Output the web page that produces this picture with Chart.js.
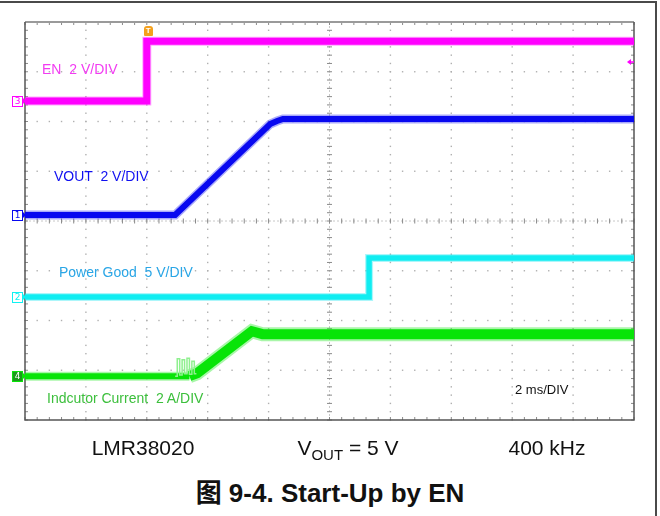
<!DOCTYPE html>
<html><head><meta charset="utf-8">
<script src="https://cdn.jsdelivr.net/npm/chart.js@4.4.1/dist/chart.umd.min.js"></script>
<style>
html,body{margin:0;padding:0;background:#fff;width:660px;height:516px;overflow:hidden;font-family:"Liberation Sans",Arial,sans-serif;}
#frame{position:absolute;left:-4px;top:1px;width:659px;height:560px;border-top:2px solid #4a4a4a;border-right:2px solid #4a4a4a;}
#wrap{position:absolute;left:0;top:0;width:660px;height:440px;}
.lbl{position:absolute;font-size:14px;line-height:14px;white-space:pre;}
.row{position:absolute;width:200px;text-align:center;font-size:21px;line-height:24px;color:#111;white-space:pre;}
.row sub{font-size:15px;vertical-align:-5px;line-height:0;}
#cap{position:absolute;left:0;width:660px;top:478px;text-align:center;font-weight:bold;font-size:26px;line-height:30px;color:#111;font-family:"Liberation Sans","Noto Sans CJK SC",sans-serif;}
.mk{position:absolute;width:9px;height:9px;border:1px solid;font-size:9px;line-height:9px;text-align:center;background:#fff;font-family:"DejaVu Sans",sans-serif;}
.mk:after{content:"";position:absolute;right:-4px;top:1px;border-left:3px solid;border-color:inherit;border-top:3px solid transparent;border-bottom:3px solid transparent;width:0;height:0;}
#trig{position:absolute;width:9px;height:10px;background:#f4a01c;border-radius:3px 3px 1px 1px;color:#fff;font-size:8px;line-height:10px;text-align:center;font-weight:bold;}
</style>
</head><body>
<div id="frame"></div>
<div id="wrap"><canvas id="c"></canvas></div>
<div class="lbl" style="left:42px;top:62px;color:#f23cf2;">EN  2 V/DIV</div>
<div class="lbl" style="left:54px;top:169px;color:#1010f0;">VOUT  2 V/DIV</div>
<div class="lbl" style="left:59px;top:265px;color:#2aa6e6;">Power Good  5 V/DIV</div>
<div class="lbl" style="left:47px;top:391px;color:#3cbf3c;">Indcutor Current  2 A/DIV</div>
<div class="lbl" style="left:515px;top:383px;color:#111;font-size:13px;">2 ms/DIV</div>
<div class="row" style="left:43px;top:436px;">LMR38020</div>
<div class="row" style="left:248px;top:436px;">V<sub>OUT</sub> = 5 V</div>
<div class="row" style="left:447px;top:436px;">400 kHz</div>
<div id="cap">图 9-4. Start-Up by EN</div>
<script>
// ---- data (time in ms, channel values in V or A) ----
const enTime   = [-10, -6, -6, 10];
const enVolts  = [0, 0, 2.41, 2.41];
const voutTime  = [-10, -5.07, -1.95, -1.72, -1.53, 10];
const voutVolts = [0, 0, 3.66, 3.78, 3.86, 3.86];
const pgTime   = [-10, 1.3, 1.3, 10];
const pgVolts  = [0, 0, 3.92, 3.92];
const ilTime   = [-10, -4.6, -4.35, -2.55, -2.2, 10];
const ilAmps   = [0, 0, 0.12, 1.81, 1.69, 1.69];
const burstTime = [-5.07, -5.0, -5.0, -4.92, -4.92, -4.84, -4.84, -4.76, -4.76, -4.68, -4.68, -4.6, -4.6, -4.52, -4.52, -4.44, -4.44, -4.37];
const burstAmps = [0, 0, 0.7, 0.7, 0.05, 0.05, 0.66, 0.66, 0.1, 0.1, 0.72, 0.72, 0.08, 0.08, 0.6, 0.6, 0.1, 0.1];
const triggerLevel = 1.57; // V on EN channel

// ---- scope settings ----
const X_MIN = -10, X_MAX = 10, X_DIV = 2;   // 2 ms/div, 10 div
const Y_MIN = 0, Y_MAX = 8;                 // 8 vertical divisions
const ch = {
  en:   {offset: 6.41, perDiv: 2, color: '#ff00ff', halo: 'rgba(255,0,255,0.35)'},
  vout: {offset: 4.12, perDiv: 2, color: '#0808f0', halo: 'rgba(8,8,240,0.35)'},
  pg:   {offset: 2.47, perDiv: 5, color: '#10f2f2', halo: 'rgba(16,230,240,0.35)'},
  il:   {offset: 0.88, perDiv: 2, color: '#08e408', halo: 'rgba(8,228,8,0.35)'}
};
const toPts = (t, v, c) => t.map((tt, i) => ({x: tt, y: c.offset + v[i] / c.perDiv}));

const gridPlugin = {
  id: 'scopeGrid',
  beforeDatasetsDraw(chart) {
    const {ctx, chartArea: a, scales: {x, y}} = chart;
    ctx.save();
    ctx.fillStyle = '#b0b0b0';
    const nx = (X_MAX - X_MIN) / X_DIV, ny = Y_MAX - Y_MIN;
    for (let i = 1; i < nx; i++) {
      const px = x.getPixelForValue(X_MIN + i * X_DIV);
      if (i === nx / 2) continue;
      for (let j = 0; j <= ny * 6; j++) {
        const py = y.getPixelForValue(Y_MIN + j / 6);
        ctx.fillRect(px - 0.7, py - 0.7, 1.4, 1.4);
      }
    }
    for (let j = 1; j < ny; j++) {
      if (j === ny / 2) continue;
      const py = y.getPixelForValue(Y_MIN + j);
      for (let i = 0; i <= nx * 5; i++) {
        const px = x.getPixelForValue(X_MIN + i * X_DIV / 5);
        ctx.fillRect(px - 0.7, py - 0.7, 1.4, 1.4);
      }
    }
    const cx = x.getPixelForValue((X_MIN + X_MAX) / 2);
    const cy = y.getPixelForValue((Y_MIN + Y_MAX) / 2);
    ctx.strokeStyle = '#c8c8c8';
    ctx.lineWidth = 1;
    ctx.setLineDash([2, 2]);
    ctx.beginPath();
    ctx.moveTo(a.left, cy); ctx.lineTo(a.right, cy);
    ctx.moveTo(cx, a.top); ctx.lineTo(cx, a.bottom);
    ctx.stroke();
    ctx.setLineDash([]);
    ctx.strokeStyle = '#8a8a8a';
    ctx.beginPath();
    for (let i = 0; i <= nx * 5; i++) {
      const px = x.getPixelForValue(X_MIN + i * X_DIV / 5);
      ctx.moveTo(px, cy - 2.5); ctx.lineTo(px, cy + 2.5);
      ctx.moveTo(px, a.top); ctx.lineTo(px, a.top + 3);
      ctx.moveTo(px, a.bottom); ctx.lineTo(px, a.bottom - 3);
    }
    for (let j = 0; j <= ny * 6; j++) {
      const py = y.getPixelForValue(Y_MIN + j / 6);
      ctx.moveTo(cx - 2.5, py); ctx.lineTo(cx + 2.5, py);
      ctx.moveTo(a.left, py); ctx.lineTo(a.left + 3, py);
      ctx.moveTo(a.right, py); ctx.lineTo(a.right - 3, py);
    }
    ctx.stroke();
    ctx.strokeStyle = '#9a9a9a';
    ctx.lineWidth = 2;
    ctx.beginPath(); ctx.moveTo(a.left, a.top); ctx.lineTo(a.right, a.top); ctx.stroke();
    ctx.strokeStyle = '#555';
    ctx.lineWidth = 1.5;
    ctx.beginPath();
    ctx.moveTo(a.left, a.top); ctx.lineTo(a.left, a.bottom); ctx.lineTo(a.right, a.bottom); ctx.lineTo(a.right, a.top);
    ctx.stroke();
    ctx.restore();
  },
  afterDatasetsDraw(chart) {
    const {ctx, chartArea: a, scales: {y}} = chart;
    const py = y.getPixelForValue(ch.en.offset + triggerLevel / ch.en.perDiv);
    ctx.save();
    ctx.fillStyle = ch.en.color;
    ctx.strokeStyle = ch.en.color;
    ctx.beginPath();
    ctx.moveTo(a.right - 7, py); ctx.lineTo(a.right - 3, py - 3); ctx.lineTo(a.right - 3, py + 3); ctx.closePath();
    ctx.fill();
    ctx.lineWidth = 1.5;
    ctx.beginPath(); ctx.moveTo(a.right - 4, py); ctx.lineTo(a.right, py); ctx.stroke();
    ctx.restore();
  }
};

const ds = (pts, color, width, extra) => Object.assign({
  data: pts, borderColor: color, borderWidth: width, pointRadius: 0, tension: 0,
  fill: false, showLine: true, borderJoinStyle: 'miter', borderCapStyle: 'butt'
}, extra || {});

const ilPts = toPts(ilTime, ilAmps, ch.il);
const pgPts = toPts(pgTime, pgVolts, ch.pg);
const voutPts = toPts(voutTime, voutVolts, ch.vout);
const enPts = toPts(enTime, enVolts, ch.en);

const chart = new Chart(document.getElementById('c'), {
  type: 'scatter',
  data: {
    datasets: [
      ds(toPts(burstTime, burstAmps, ch.il), '#8ff08f', 1.5),
      ds(ilPts, ch.il.halo, 9, {segment: {borderWidth: c => c.p0DataIndex >= 1 ? 14 : 9}}),
      ds(ilPts, ch.il.color, 6, {segment: {borderWidth: c => c.p0DataIndex >= 1 ? 10 : 6}}),
      ds(pgPts, ch.pg.halo, 8),
      ds(pgPts, ch.pg.color, 5.5),
      ds(voutPts, ch.vout.halo, 9),
      ds(voutPts, ch.vout.color, 6),
      ds(enPts, ch.en.halo, 9),
      ds(enPts, ch.en.color, 7)
    ]
  },
  options: {
    responsive: true, maintainAspectRatio: false, animation: false,
    layout: {padding: {left: 25, top: 22, right: 26, bottom: 20}},
    plugins: {legend: {display: false}, tooltip: {enabled: false}, title: {display: false}},
    scales: {
      x: {type: 'linear', min: X_MIN, max: X_MAX, display: false},
      y: {type: 'linear', min: Y_MIN, max: Y_MAX, display: false}
    },
    events: []
  },
  plugins: [gridPlugin]
});

const markers = [['3', ch.en, false], ['1', ch.vout, false], ['2', ch.pg, false], ['4', ch.il, true]];
const a = chart.chartArea;
markers.forEach(([label, c, filled]) => {
  const d = document.createElement('div');
  d.className = 'mk';
  d.textContent = label;
  const py = chart.scales.y.getPixelForValue(c.offset);
  d.style.left = (a.left - 13) + 'px';
  d.style.top = (py - 5.5) + 'px';
  d.style.borderColor = c.color;
  if (filled) { d.style.background = '#1a9a1a'; d.style.color = '#fff'; }
  else { d.style.color = c.color; }
  document.body.appendChild(d);
});
const trig = document.createElement('div');
trig.id = 'trig';
trig.textContent = 'T';
trig.style.left = (chart.scales.x.getPixelForValue(enTime[1]) - 3) + 'px';
trig.style.top = (a.top + 4) + 'px';
document.body.appendChild(trig);
</script>
</body></html>
